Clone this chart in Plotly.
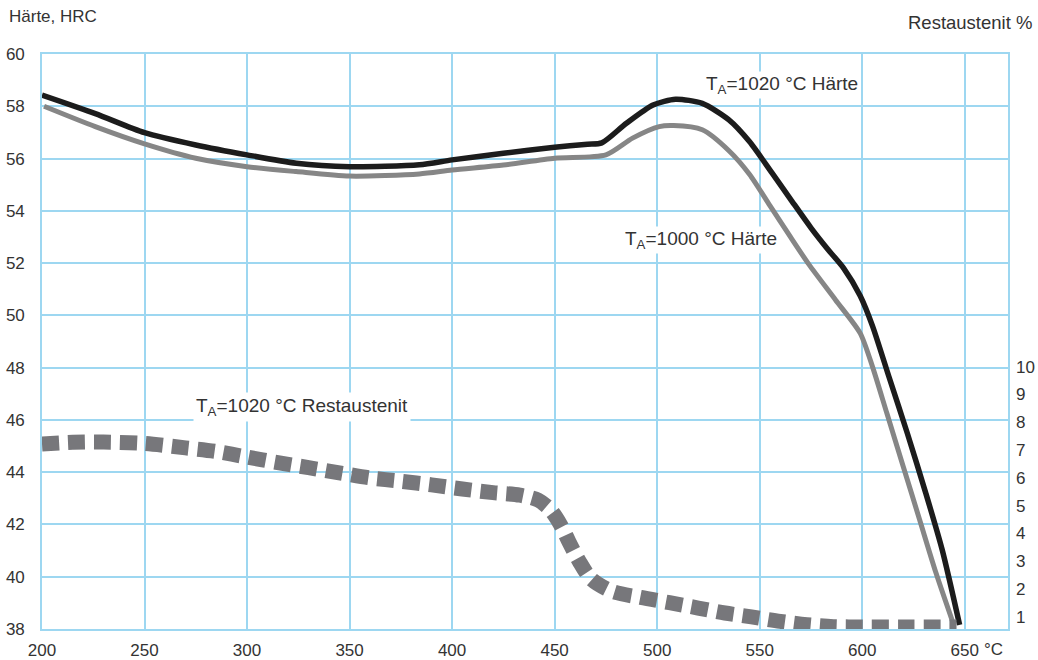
import plotly.graph_objects as go

# Anlasstemperatur (°C) und Härte nach Härten bei T_A = 1020 °C
temp_1020 = [200, 226, 250, 275, 300, 324, 350, 384, 400, 425, 450, 466, 473,
             485, 498, 509, 522, 535, 545, 556, 565, 575, 583, 591, 599, 605, 613,
             622, 631, 639, 647.5]
hrc_1020 = [58.43, 57.72, 56.99, 56.52, 56.14, 55.82, 55.69, 55.76, 55.95, 56.2,
            56.43, 56.55, 56.6, 57.35, 58.05, 58.27, 58.11, 57.48, 56.65, 55.45, 54.45,
            53.35, 52.55, 51.8, 50.75, 49.6, 47.66, 45.49, 43.2, 41.03, 38.16]

# Härte nach Härten bei T_A = 1000 °C
temp_1000 = [201, 226, 250, 275, 300, 324, 350, 384, 400, 425, 450, 475, 488, 501,
             508, 522, 535, 545, 555, 565, 574, 587, 599, 605, 612, 620, 628, 636,
             644]
hrc_1000 = [58.0, 57.22, 56.56, 56.01, 55.69, 55.5, 55.33, 55.41, 55.56, 55.75,
            56.01, 56.14, 56.78, 57.22, 57.26, 57.1, 56.3, 55.4, 54.2, 53.0,
            51.95, 50.59, 49.32, 48.04, 46.26, 44.22, 42.18, 40.14, 38.3]

# Restaustenit (%) bei T_A = 1020 °C
temp_ra = [200, 215, 230, 250, 270, 285, 300, 315, 330, 345, 360, 375, 390, 405, 420,
           433, 442, 448, 453, 457, 462, 468, 478, 492, 506, 520, 533, 546, 560, 573,
           586, 600, 620, 646]
ra_1020 = [7.22, 7.28, 7.29, 7.24, 7.08, 6.95, 6.75, 6.55, 6.37, 6.18, 6.0, 5.88, 5.75,
           5.6, 5.47, 5.38, 5.2, 4.85, 4.3, 3.7, 3.0, 2.35, 1.92, 1.7, 1.51, 1.32, 1.14,
           1.0, 0.84, 0.72, 0.65, 0.64, 0.64, 0.64]

x_ticks = [200, 250, 300, 350, 400, 450, 500, 550, 600, 650]
hrc_ticks = [38, 40, 42, 44, 46, 48, 50, 52, 54, 56, 58, 60]
ra_ticks = [1, 2, 3, 4, 5, 6, 7, 8, 9, 10]

FONT = "Liberation Sans, Arial, Helvetica, sans-serif"
TXT = "#333333"
GRID = "#9dd7f1"

fig = go.Figure()

fig.add_trace(go.Scatter(
    x=temp_ra, y=ra_1020, yaxis="y2", mode="lines",
    line=dict(color="#77777b", width=15, dash="17px,9px", shape="spline", smoothing=0.8),
    hoverinfo="skip", showlegend=False))

fig.add_trace(go.Scatter(
    x=temp_1000, y=hrc_1000, mode="lines",
    line=dict(color="#868686", width=5, shape="spline", smoothing=0.7),
    showlegend=False))

fig.add_trace(go.Scatter(
    x=temp_1020, y=hrc_1020, mode="lines",
    line=dict(color="#1c1c1c", width=5.5, shape="spline", smoothing=0.7),
    showlegend=False))

label_font = dict(family=FONT, size=19, color=TXT)
fig.add_annotation(x=522.8, y=58.81, xref="x", yref="y", xanchor="left", yanchor="middle",
                   text="T<sub>A</sub>=1020 °C Härte", showarrow=False, font=label_font,
                   bgcolor="white", borderpad=1)
fig.add_annotation(x=483.5, y=52.88, xref="x", yref="y", xanchor="left", yanchor="middle",
                   text="T<sub>A</sub>=1000 °C Härte", showarrow=False, font=label_font,
                   bgcolor="white", borderpad=1)
fig.add_annotation(x=273.5, y=8.55, xref="x", yref="y2", xanchor="left", yanchor="middle",
                   text="T<sub>A</sub>=1020 °C Restaustenit", showarrow=False, font=label_font,
                   bgcolor="white", borderpad=2)

# Achsentitel
fig.add_annotation(x=-0.036, y=1.066, xref="paper", yref="paper", xanchor="left",
                   yanchor="middle", text="Härte, HRC", showarrow=False,
                   font=dict(family=FONT, size=17, color=TXT))
fig.add_annotation(x=1.027, y=1.054, xref="paper", yref="paper", xanchor="right",
                   yanchor="middle", text="Restaustenit %", showarrow=False,
                   font=dict(family=FONT, size=18.5, color=TXT))
fig.add_annotation(x=0.9855, y=-0.036, xref="paper", yref="paper", xanchor="center",
                   yanchor="middle", text="°C", showarrow=False,
                   font=dict(family=FONT, size=17, color=TXT))

fig.update_layout(
    width=1038, height=660,
    margin=dict(l=42, r=30, t=54, b=31, autoexpand=False),
    paper_bgcolor="white", plot_bgcolor="white",
    font=dict(family=FONT, size=17, color=TXT),
    xaxis=dict(range=[200, 671.1], tickvals=x_ticks, showgrid=True, gridcolor=GRID,
               gridwidth=1.6, showline=True, linecolor=GRID, linewidth=1.6, mirror=True,
               zeroline=False, ticks="", ticklabelstandoff=5, automargin=False),
    yaxis=dict(range=[38, 60], tickvals=hrc_ticks, showgrid=True, gridcolor=GRID,
               gridwidth=1.6, showline=True, linecolor=GRID, linewidth=1.6, mirror=True,
               zeroline=False, ticks="", ticklabelstandoff=12, automargin=False),
    yaxis2=dict(range=[0.565, 21.25], tickvals=ra_ticks, overlaying="y", side="right",
                showgrid=False, zeroline=False, showline=False, ticks="",
                ticklabelstandoff=7, automargin=False),
)

fig.write_html("out.html")
